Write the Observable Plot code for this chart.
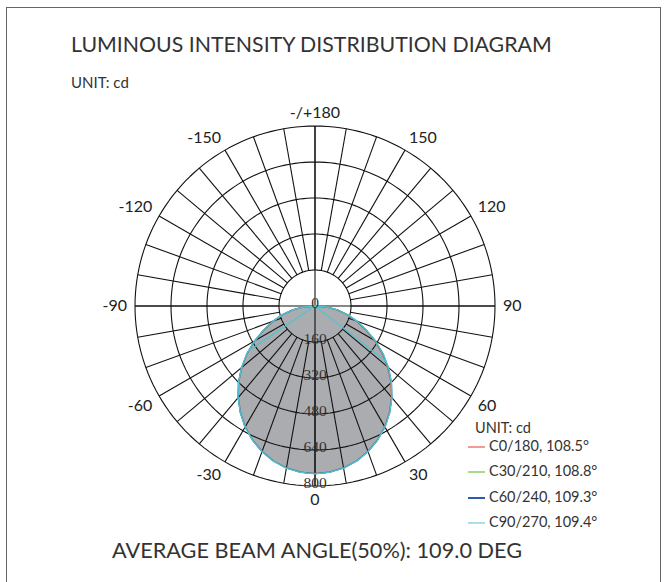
<!DOCTYPE html>
<html>
<head>
<meta charset="utf-8">
<script src="https://cdn.jsdelivr.net/npm/d3@7"></script>
<script src="https://cdn.jsdelivr.net/npm/@observablehq/plot@0.6"></script>
<style>
  body { margin: 0; background: #fff; }
  #wrap { position: relative; width: 664px; height: 582px; overflow: hidden; background: #fff; font-family: Lato, "Open Sans", sans-serif; color: #333; }
  #frame { position: absolute; left: 6px; top: 7px; width: 655px; height: 600px; border: 1px solid #666; box-sizing: border-box; }
  .txt { position: absolute; white-space: nowrap; }
  #title { left: 71px; top: 32px; font-size: 21.3px; line-height: 24px; }
  #unit { left: 71px; top: 72px; font-size: 15px; line-height: 20px; }
  #caption { left: 112px; top: 538px; font-size: 21.7px; line-height: 24px; }
  #legend { position: absolute; left: 466px; top: 418px; font-size: 14.5px; }
  #legend .row { position: relative; height: 25.3px; line-height: 20px; white-space: nowrap; padding-left: 23px; }
  #legend .sw { position: absolute; left: 2px; top: 10px; width: 17px; height: 2px; }
  #plot { position: absolute; left: 0; top: 0; }
</style>
</head>
<body>
<div id="wrap">
  <div id="frame"></div>
  <div id="plot"></div>
  <div class="txt" id="title">LUMINOUS INTENSITY DISTRIBUTION DIAGRAM</div>
  <div class="txt" id="unit">UNIT: cd</div>
  <div class="txt" id="caption">AVERAGE BEAM ANGLE(50%): 109.0 DEG</div>
  <div id="legend"></div>
</div>
<script>
// ---- data ----
const angles = [-90,-85,-80,-75,-70,-65,-60,-55,-50,-45,-40,-35,-30,-25,-20,-15,-10,-5,0,5,10,15,20,25,30,35,40,45,50,55,60,65,70,75,80,85,90];
const c0Values   = [0,50,100,150,198,249,309,367,424,479,530,577,620,657,688,713,731,741,745,741,731,713,688,657,620,576,529,476,419,361,303,246,196,148,99,49,0];
const c30Values  = [0,50,100,150,198,249,309,368,425,480,531,578,621,657,688,713,731,741,745,741,731,713,688,657,621,578,531,479,423,366,307,248,197,149,100,50,0];
const c60Values  = [0,50,101,151,199,250,310,369,426,481,531,578,621,657,688,713,731,741,745,741,731,713,688,657,621,578,531,480,425,368,309,249,198,150,100,50,0];
const c90Values  = [0,51,102,152,200,251,311,370,427,481,532,579,622,658,689,714,732,742,746,742,732,714,689,658,622,579,532,481,427,370,311,251,200,152,102,51,0];
const seriesNames = ["C0/180, 108.5°", "C30/210, 108.8°", "C60/240, 109.3°", "C90/270, 109.4°"];
const seriesColors = ["#e8605c", "#8fcf68", "#2d59b0", "#52c3d2"];
const legendColors = ["#f29a98", "#a6dc88", "#2d59b0", "#a8e0e6"];
// coarse C90/270 samples (straight chords near the top)
const chordSide = ["left", "left", "right", "right"];
const chordAngles = [-90, -56, 90, 52];
const chordValues = [0, 356, 0, 404];
const ringValues = [160, 320, 480, 640, 800];
const ringLabels = ["0", "160", "320", "480", "640", "800"];
const ringLabelValues = [0, 160, 320, 480, 640, 800];
const angleTicks = [0, 30, 60, 90, 120, 150, 180, -150, -120, -90, -60, -30];
const angleTickLabels = ["0", "30", "60", "90", "120", "150", "-/+180", "-150", "-120", "-90", "-60", "-30"];

// ---- polar helpers ----
const rad = d => d * Math.PI / 180;
const px = (a, v) => v * Math.sin(rad(a));
const py = (a, v) => v * Math.cos(rad(a));

const seriesValues = [c0Values, c30Values, c60Values, c90Values];
const curves = [];
seriesValues.forEach((vals, i) => {
  angles.forEach((a, j) => curves.push({series: seriesNames[i], x: px(a, vals[j]), y: py(a, vals[j])}));
});
const fillPts = angles.map((a, j) => ({x: px(a, c90Values[j]), y: py(a, c90Values[j])}));

const ringPts = [];
for (const r of ringValues) for (let a = 0; a <= 360; a += 2) ringPts.push({ring: r, x: px(a, r), y: py(a, r)});

const spokes = [];
for (let a = 0; a < 360; a += 10) spokes.push({x1: px(a, 160), y1: py(a, 160), x2: px(a, 800), y2: py(a, 800)});
const axes = [
  {x1: -800, y1: 0, x2: 800, y2: 0},
  {x1: 0, y1: -800, x2: 0, y2: 800}
];

const chords = chordAngles.map((a, i) => ({side: chordSide[i], x: px(a, chordValues[i]), y: py(a, chordValues[i])}));

const ringText = ringLabels.map((t, i) => ({t, x: 0, y: ringLabelValues[i]}));
// angle labels: anchored by their nearest corner just outside the outer ring
const labelR = 835;
const angleText = angleTicks.map((a, i) => {
  const s = Math.sin(rad(a)), c = Math.cos(rad(a));
  return {
    t: angleTickLabels[i], x: px(a, labelR), y: py(a, labelR),
    ta: Math.abs(s) < 0.01 ? "middle" : s > 0 ? "start" : "end",
    la: Math.abs(c) < 0.01 ? "middle" : c > 0 ? "top" : "bottom"
  };
});
const labelMarks = [];
for (const ta of ["start", "middle", "end"]) for (const la of ["top", "middle", "bottom"]) {
  labelMarks.push(Plot.text(angleText, {
    filter: d => d.ta === ta && d.la === la,
    x: "x", y: "y", text: "t", textAnchor: ta, lineAnchor: la,
    fontFamily: "Lato, 'Open Sans', sans-serif", fontSize: 16, fill: "#222"
  }));
}

const chart = Plot.plot({
  width: 664,
  height: 582,
  margin: 0,
  x: {domain: [-800, 800], range: [134.5, 494.5], axis: null},
  y: {domain: [-800, 800], range: [125.5, 485.5], axis: null},
  color: {domain: seriesNames, range: seriesColors},
  style: {background: "transparent", overflow: "visible"},
  marks: [
    Plot.line(fillPts, {x: "x", y: "y", fill: "#abacaf", stroke: "none"}),
    Plot.line(ringPts, {x: "x", y: "y", z: "ring", stroke: "#111", strokeWidth: 1.1}),
    Plot.link(spokes, {x1: "x1", y1: "y1", x2: "x2", y2: "y2", stroke: "#111", strokeWidth: 1.1}),
    Plot.link(axes, {x1: "x1", y1: "y1", x2: "x2", y2: "y2", stroke: "#111", strokeWidth: 1.1}),
    Plot.line(curves, {x: "x", y: "y", z: "series", stroke: "series", strokeWidth: 1.3}),
    Plot.line(chords, {x: "x", y: "y", z: "side", stroke: seriesColors[3], strokeWidth: 1.3}),
    Plot.text(ringText, {x: "x", y: "y", text: "t", textAnchor: "middle", lineAnchor: "bottom", dy: 1.5, fontFamily: "'Liberation Serif', 'DejaVu Serif', serif", fontSize: 15.5, fill: "#333"}),
    ...labelMarks
  ]
});
document.getElementById("plot").appendChild(chart);

// legend
const legend = document.getElementById("legend");
const head = document.createElement("div");
head.className = "row";
head.style.paddingLeft = "9px";
head.style.height = "18px";
head.textContent = "UNIT: cd";
legend.appendChild(head);
seriesNames.forEach((n, i) => {
  const row = document.createElement("div");
  row.className = "row";
  const sw = document.createElement("div");
  sw.className = "sw";
  sw.style.background = legendColors[i];
  row.appendChild(sw);
  row.appendChild(document.createTextNode(n));
  legend.appendChild(row);
});
</script>
</body>
</html>
